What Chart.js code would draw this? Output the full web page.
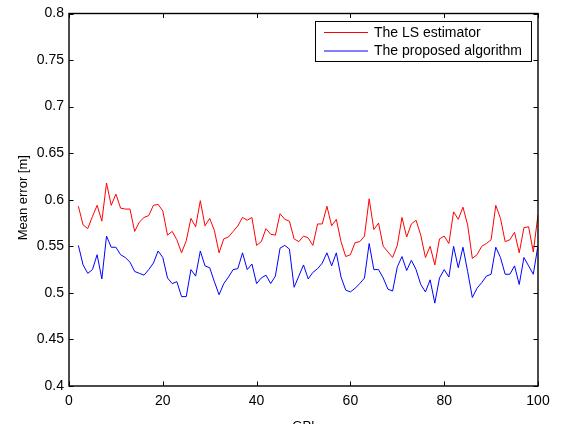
<!DOCTYPE html>
<html>
<head>
<meta charset="utf-8">
<script src="https://cdn.jsdelivr.net/npm/chart.js@4/dist/chart.umd.min.js"></script>
<style>
  html, body { margin: 0; padding: 0; background: #fff; }
</style>
</head>
<body>
<canvas id="errChart" width="561" height="424"></canvas>
<script>
// GPI index (x axis)
const gpi = [
  2, 3, 4, 5, 6, 7, 8, 9, 10, 11, 12, 13, 14, 15, 16, 17, 18, 19, 20,
  21, 22, 23, 24, 25, 26, 27, 28, 29, 30, 31, 32, 33, 34, 35, 36, 37, 38, 39, 40,
  41, 42, 43, 44, 45, 46, 47, 48, 49, 50, 51, 52, 53, 54, 55, 56, 57, 58, 59, 60,
  61, 62, 63, 64, 65, 66, 67, 68, 69, 70, 71, 72, 73, 74, 75, 76, 77, 78, 79, 80,
  81, 82, 83, 84, 85, 86, 87, 88, 89, 90, 91, 92, 93, 94, 95, 96, 97, 98, 99, 100
];

// mean error of the LS estimator [m]
const lsError = [
  0.593, 0.573, 0.569, 0.582, 0.594, 0.577, 0.618, 0.594, 0.606, 0.591, 0.590, 0.590, 0.566, 0.576, 0.581, 0.583, 0.594, 0.595, 0.588,
  0.562, 0.566, 0.557, 0.543, 0.556, 0.580, 0.571, 0.599, 0.572, 0.580, 0.567, 0.543, 0.558, 0.560, 0.566, 0.572, 0.581, 0.578, 0.581, 0.551,
  0.555, 0.569, 0.563, 0.562, 0.585, 0.579, 0.577, 0.558, 0.555, 0.561, 0.559, 0.551, 0.574, 0.574, 0.593, 0.572, 0.579, 0.555, 0.539, 0.541,
  0.554, 0.555, 0.561, 0.601, 0.568, 0.575, 0.550, 0.544, 0.538, 0.551, 0.581, 0.560, 0.574, 0.578, 0.562, 0.538, 0.550, 0.530, 0.558, 0.561,
  0.553, 0.587, 0.579, 0.592, 0.573, 0.537, 0.541, 0.550, 0.553, 0.557, 0.594, 0.580, 0.555, 0.557, 0.565, 0.543, 0.570, 0.571, 0.544, 0.584
];

// mean error of the proposed algorithm [m]
const proposedError = [
  0.551, 0.530, 0.521, 0.525, 0.541, 0.515, 0.561, 0.549, 0.549, 0.541, 0.538, 0.533, 0.523, 0.521, 0.519, 0.525, 0.532, 0.545, 0.538,
  0.516, 0.510, 0.512, 0.496, 0.496, 0.525, 0.518, 0.545, 0.529, 0.527, 0.512, 0.498, 0.510, 0.517, 0.525, 0.526, 0.543, 0.525, 0.531, 0.510,
  0.516, 0.519, 0.510, 0.518, 0.548, 0.551, 0.547, 0.506, 0.518, 0.530, 0.515, 0.522, 0.526, 0.532, 0.543, 0.529, 0.543, 0.517, 0.503, 0.501,
  0.505, 0.510, 0.516, 0.553, 0.525, 0.525, 0.516, 0.504, 0.502, 0.528, 0.539, 0.524, 0.535, 0.525, 0.509, 0.501, 0.514, 0.489, 0.516, 0.525,
  0.517, 0.550, 0.527, 0.549, 0.523, 0.495, 0.505, 0.511, 0.518, 0.520, 0.549, 0.538, 0.520, 0.520, 0.529, 0.509, 0.538, 0.529, 0.520, 0.551
];

const seriesNames = ["The LS estimator", "The proposed algorithm"];
const seriesColors = ["#ff0000", "#0000ff"];
const xTitle = "GPI";
const yTitle = "Mean error [m]";

const FONT = "'Liberation Sans', Arial, Helvetica, sans-serif";

const toPoints = (vals) => vals.map((v, i) => ({ x: gpi[i], y: v }));

// boxed axes with inward ticks on all four sides
const boxAxes = {
  id: "boxAxes",
  afterDraw(chart) {
    const { ctx, chartArea: a, scales } = chart;
    const len = 4.5;
    ctx.save();
    ctx.strokeStyle = "#000";
    ctx.lineWidth = 1;
    ctx.beginPath();
    scales.x.ticks.forEach((t) => {
      const px = Math.round(scales.x.getPixelForValue(t.value)) + 0.5;
      ctx.moveTo(px, a.bottom); ctx.lineTo(px, a.bottom - len);
      ctx.moveTo(px, a.top); ctx.lineTo(px, a.top + len);
    });
    scales.y.ticks.forEach((t) => {
      const py = Math.round(scales.y.getPixelForValue(t.value)) + 0.5;
      ctx.moveTo(a.left, py); ctx.lineTo(a.left + len, py);
      ctx.moveTo(a.right, py); ctx.lineTo(a.right - len, py);
    });
    ctx.stroke();
    ctx.lineWidth = 1.4;
    ctx.strokeRect(a.left, a.top, a.right - a.left, a.bottom - a.top);

    // axis titles
    ctx.fillStyle = "#000";
    ctx.font = "13px " + FONT;
    ctx.textAlign = "center";
    ctx.textBaseline = "alphabetic";
    ctx.fillText(xTitle, (a.left + a.right) / 2, 430);
    ctx.save();
    ctx.translate(27, (a.top + a.bottom) / 2 - 2);
    ctx.rotate(-Math.PI / 2);
    ctx.textBaseline = "alphabetic";
    ctx.fillText(yTitle, 0, 0);
    ctx.restore();

    // legend box
    const lx = 315, ly = 21, lw = 216, lh = 40;
    ctx.fillStyle = "#fff";
    ctx.fillRect(lx, ly, lw, lh);
    ctx.lineWidth = 1;
    ctx.strokeStyle = "#000";
    ctx.strokeRect(lx + 0.5, ly + 0.5, lw, lh);
    ctx.font = "14px " + FONT;
    ctx.textAlign = "left";
    ctx.textBaseline = "middle";
    seriesNames.forEach((name, i) => {
      const y = ly + 11.5 + i * 18.5;
      ctx.strokeStyle = seriesColors[i];
      ctx.beginPath();
      ctx.moveTo(324, y); ctx.lineTo(368, y);
      ctx.stroke();
      ctx.fillStyle = "#000";
      ctx.fillText(name, 374, y + 0.5);
    });
    ctx.restore();
  }
};

new Chart(document.getElementById("errChart"), {
  type: "line",
  data: {
    datasets: [
      { label: seriesNames[0], data: toPoints(lsError), borderColor: seriesColors[0], borderWidth: 1, pointRadius: 0, tension: 0, fill: false },
      { label: seriesNames[1], data: toPoints(proposedError), borderColor: seriesColors[1], borderWidth: 1, pointRadius: 0, tension: 0, fill: false }
    ]
  },
  options: {
    responsive: false,
    animation: false,
    devicePixelRatio: 1,
    layout: { padding: { left: 0, right: 23, top: 13.5, bottom: 0 } },
    plugins: { legend: { display: false }, tooltip: { enabled: false } },
    scales: {
      x: {
        type: "linear",
        min: 0, max: 100,
        grid: { display: false, drawTicks: false },
        border: { display: false },
        ticks: { stepSize: 20, padding: 7, color: "#000", font: { family: FONT, size: 14 }, maxRotation: 0 },
        afterFit: (s) => { s.height = 38; }
      },
      y: {
        min: 0.4, max: 0.8,
        grid: { display: false, drawTicks: false },
        border: { display: false },
        ticks: { stepSize: 0.05, padding: 5, color: "#000", font: { family: FONT, size: 14 }, callback: (v) => String(+v.toFixed(2)) },
        afterFit: (s) => { s.width = 69; }
      }
    }
  },
  plugins: [boxAxes]
});
</script>
</body>
</html>
